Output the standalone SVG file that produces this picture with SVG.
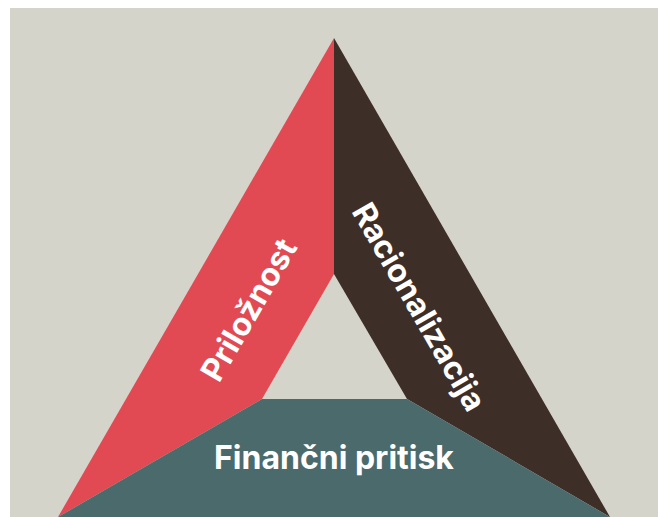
<svg xmlns="http://www.w3.org/2000/svg" width="658" height="517" viewBox="0 0 658 517">
  <style>
    .lbl { font-family: Inter, "Liberation Sans", sans-serif; font-weight: 700; font-size: 32px; fill: #ffffff; text-anchor: middle; }
  </style>
  <rect x="0" y="0" width="658" height="517" fill="#ffffff"/>
  <rect x="10" y="8" width="648" height="509" fill="#d5d4cb"/>
  <g id="prilo">
    <polygon points="334,38 334,274 262,399 58,517" fill="#e24a53"/>
    <text class="lbl" transform="translate(249,310) rotate(-60)" y="11">Priložnost</text>
  </g>
  <g id="racio">
    <polygon points="334,38 610,517 407,399 334,274" fill="#3d2e28"/>
    <text class="lbl" transform="translate(419,307) rotate(60)" y="11">Racionalizacija</text>
  </g>
  <g id="financni">
    <polygon points="262,399 407,399 610,517 58,517" fill="#4a6a6c"/>
    <text class="lbl" x="334" y="469">Finančni pritisk</text>
  </g>
  <g id="connectors"/>
</svg>
